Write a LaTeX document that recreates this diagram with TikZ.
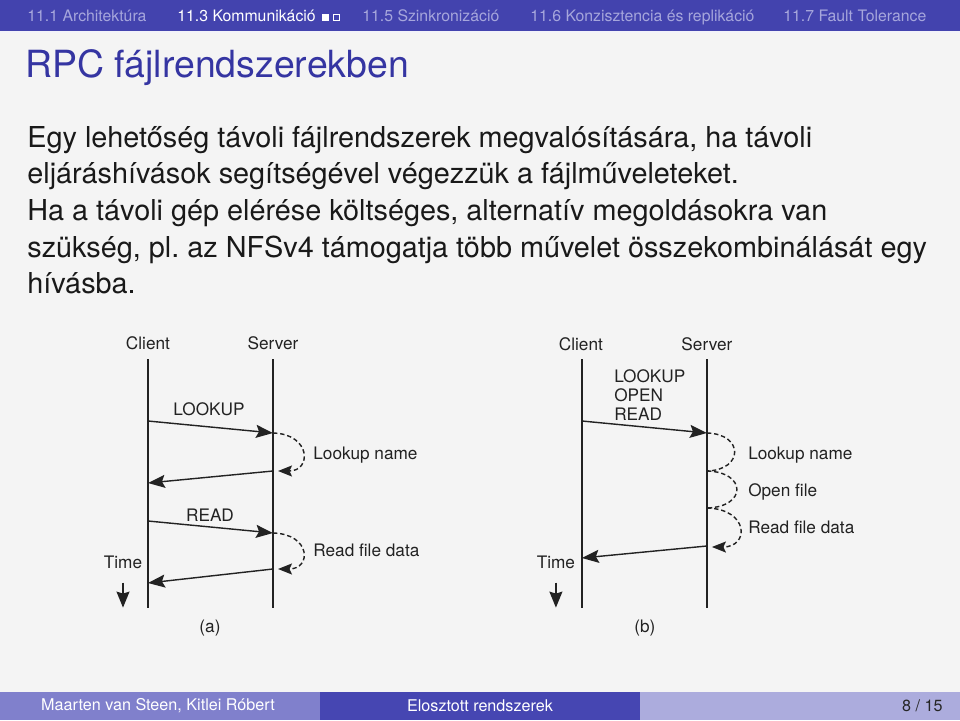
\documentclass[tikz,border=0pt]{standalone}
\usepackage{fontspec}
\setmainfont{TeX Gyre Heros}
\usetikzlibrary{arrows.meta, positioning}

\definecolor{headblue}{HTML}{4343AE}
\definecolor{navfaded}{HTML}{A6A6DC}
\definecolor{titleblue}{HTML}{3535A2}
\definecolor{slidebg}{HTML}{F4F4F4}
\definecolor{footleft}{HTML}{8080CC}
\definecolor{footmid}{HTML}{4646B2}
\definecolor{footright}{HTML}{ACACDD}
\definecolor{inkgrey}{HTML}{222222}

\tikzset{
  navtext/.style={inner sep=0pt, anchor=base west, font=\fontsize{9}{11}\selectfont},
  foottext/.style={inner sep=0pt, font=\fontsize{9.2}{11}\selectfont},
  lifeline/.style={line width=0.8pt, draw=inkgrey},
  msg/.style={line width=0.8pt, draw=inkgrey, -{Stealth[length=0.34cm, width=0.26cm, inset=0.06cm]}},
  selfcall/.style={line width=0.8pt, draw=inkgrey, dash pattern=on 2.5pt off 1.6pt},
  timearrow/.style={line width=0.8pt, draw=inkgrey, -{Stealth[length=0.32cm, width=0.26cm, inset=0.04cm]}},
  lbl/.style={inner sep=0pt, text=inkgrey, font=\fontsize{9.8}{11.8}\selectfont},
}

\begin{document}
\begin{tikzpicture}[x=0.02cm, y=-0.02cm]

  %% slide frame
  \fill[slidebg] (0,0) rectangle (960,720);
  \useasboundingbox (0,0) rectangle (960,720);

  % head line with the sections
  \fill[headblue] (0,0) rectangle (960,31);
  \fill[headblue!7!white] (0,31) rectangle (960,33);
  \node[navtext, text=navfaded] (nav1) at (27,21) {11.1 Architektúra};
  \node[navtext, text=white] (nav3) at (177,21) {11.3 Kommunikáció};
  \fill[white] (322,14) rectangle (329,21);
  \draw[white, line width=0.5pt] (333,14.5) rectangle (339.5,20.5);
  \node[navtext, text=navfaded] (nav5) at (362,21) {11.5 Szinkronizáció};
  \node[navtext, text=navfaded] (nav6) at (530,21) {11.6 Konzisztencia és replikáció};
  \node[navtext, text=navfaded] (nav7) at (783,21) {11.7 Fault Tolerance};

  % title and text
  \node[inner sep=0pt, anchor=base west, text=titleblue,
        font=\fontsize{21.3}{25}\selectfont] (title) at (25,77) {RPC fájlrendszerekben};
  \node[inner sep=0pt, anchor=north west, align=left, text=black!90,
        font=\fontsize{16.4}{20.8}\selectfont] (body) at (27,126)
    {Egy lehetőség távoli fájlrendszerek megvalósítására, ha távoli\\
     eljáráshívások segítségével végezzük a fájlműveleteket.\\
     Ha a távoli gép elérése költséges, alternatív megoldásokra van\\
     szükség, pl.\ az NFSv4 támogatja több művelet összekombinálását egy\\
     hívásba.};

  %% (a) one call per operation
  \node[lbl, anchor=base] (clientA) at (148,349) {Client};
  \node[lbl, anchor=base] (serverA) at (273,349) {Server};
  \coordinate (clientAtop) at (148,359);
  \coordinate (clientAbot) at (148,608);
  \coordinate (serverAtop) at (273,359);
  \coordinate (serverAbot) at (273,608);
  \draw[lifeline] (clientAtop) -- (clientAbot);
  \draw[lifeline] (serverAtop) -- (serverAbot);

  % LOOKUP
  \coordinate (ca1) at (148,421);
  \coordinate (sa1) at (273,433);
  \coordinate (sa2) at (273,471);
  \coordinate (sa2tip) at (278,471);
  \coordinate (ca2) at (148,483);
  \node[lbl, anchor=base] (lookupA) at (209,415) {LOOKUP};
  \draw[msg] (ca1) -- (sa1);
  \draw[selfcall, -{Stealth[length=0.28cm, width=0.22cm, inset=0.05cm]}]
    (sa1) .. controls +(38,1) and +(34,0) .. (sa2tip);
  \node[lbl, anchor=base west] (lookupnameA) at (313,459) {Lookup name};
  \draw[msg] (sa2) -- (ca2);

  % READ
  \coordinate (ca3) at (148,521);
  \coordinate (sa3) at (273,533);
  \coordinate (sa4) at (273,569);
  \coordinate (sa4tip) at (278,569);
  \coordinate (ca4) at (148,583);
  \node[lbl, anchor=base] (readA) at (210,521) {READ};
  \draw[msg] (ca3) -- (sa3);
  \draw[selfcall, -{Stealth[length=0.28cm, width=0.22cm, inset=0.05cm]}]
    (sa3) .. controls +(38,1) and +(34,0) .. (sa4tip);
  \node[lbl, anchor=base west] (readdataA) at (313,556) {Read file data};
  \draw[msg] (sa4) -- (ca4);

  \node[lbl, anchor=base] (timeA) at (123,568) {Time};
  \draw[timearrow] ([yshift=-0.28cm]timeA.south) -- ++(0,25);
  \node[lbl] (capA) at (210,628) {(a)};

  %% (b) operations combined in one call
  \begin{scope}[xshift=8.68cm]
    \node[lbl, anchor=base] (clientB) at (147,350) {Client};
    \node[lbl, anchor=base] (serverB) at (273,350) {Server};
    \coordinate (clientBtop) at (148,359);
    \coordinate (clientBbot) at (148,608);
    \coordinate (serverBtop) at (273,359);
    \coordinate (serverBbot) at (273,608);
    \draw[lifeline] (clientBtop) -- (clientBbot);
    \draw[lifeline] (serverBtop) -- (serverBbot);

    \coordinate (cb1) at (148,421);
    \coordinate (sb1) at (273,433);
    \coordinate (sb2) at (273,471);
    \coordinate (sb3) at (273,508);
    \coordinate (sb4tip) at (278,547);
    \coordinate (sb4) at (273,546);
    \coordinate (cb2) at (148,558);
    \node[lbl, anchor=north west, align=left,
          font=\fontsize{9.8}{10.9}\selectfont] (opsB) at (180,369) {LOOKUP\\OPEN\\READ};
    \draw[msg] (cb1) -- (sb1);
    \draw[selfcall] (sb1) .. controls +(37,1) and +(37,-1) .. (sb2);
    \draw[selfcall] (sb2) .. controls +(40,1) and +(40,-1) .. (sb3);
    \draw[selfcall, -{Stealth[length=0.28cm, width=0.22cm, inset=0.05cm]}]
      (sb3) .. controls +(42,1) and +(38,0) .. (sb4tip);
    \node[lbl, anchor=base west] (lookupnameB) at (314,459) {Lookup name};
    \node[lbl, anchor=base west] (openfileB) at (314,496) {Open file};
    \node[lbl, anchor=base west] (readdataB) at (314,533) {Read file data};
    \draw[msg] (sb4) -- (cb2);

    \node[lbl, anchor=base] (timeB) at (122,568) {Time};
    \draw[timearrow] ([yshift=-0.28cm]timeB.south) -- ++(0,25);
    \node[lbl] (capB) at (211,628) {(b)};
  \end{scope}

  % foot line
  \fill[footleft] (0,692) rectangle (320,720);
  \fill[footmid] (320,692) rectangle (640,720);
  \fill[footright] (640,692) rectangle (960,720);
  \node[foottext, text=white] (authors) at (158,706) {Maarten van Steen, Kitlei Róbert};
  \node[foottext, text=white] (lecture) at (480,706) {Elosztott rendszerek};
  \node[foottext, anchor=east, text=black!85] (pages) at (943,706) {8 / 15};

\end{tikzpicture}
\end{document}
